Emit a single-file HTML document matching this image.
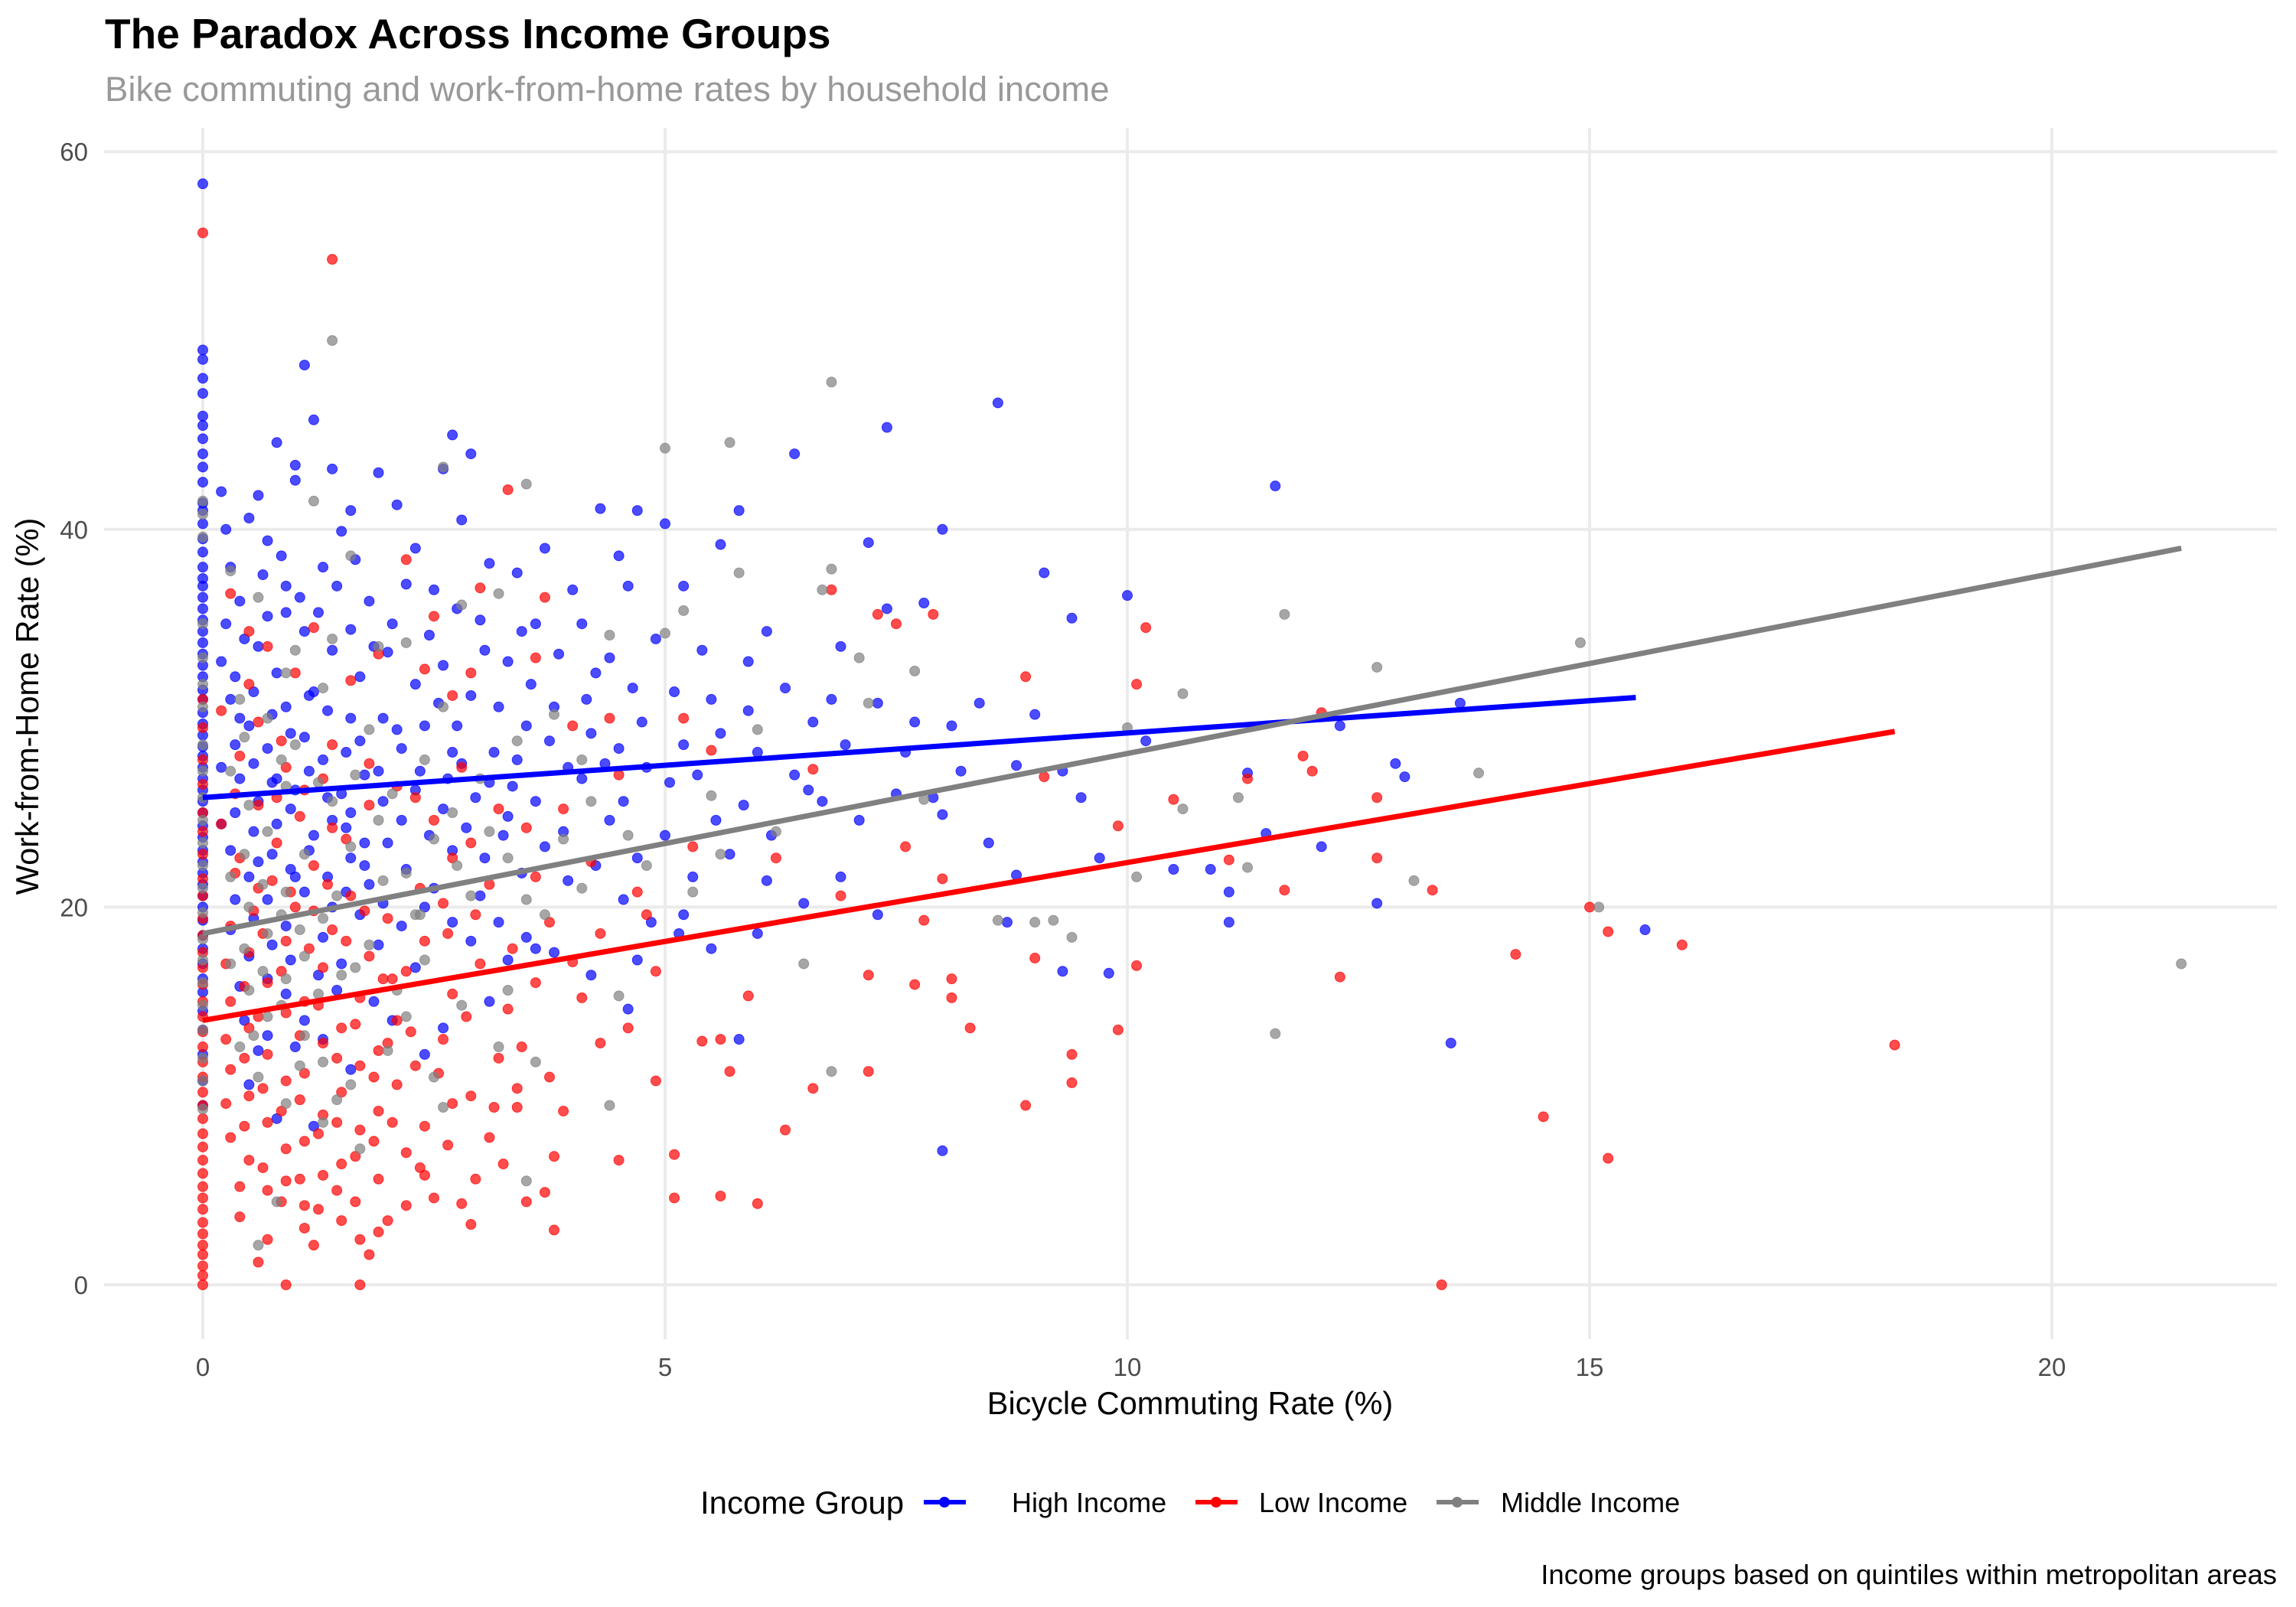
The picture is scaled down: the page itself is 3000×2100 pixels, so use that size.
<!DOCTYPE html>
<html><head><meta charset="utf-8">
<style>
html,body{margin:0;padding:0;background:#fff;}
svg{display:block;font-family:"Liberation Sans",Arial,sans-serif;}
</style></head>
<body>
<svg id="chart" width="3000" height="2100" viewBox="0 0 3000 2100" xmlns="http://www.w3.org/2000/svg">
<text x="137" y="63" font-size="55" font-weight="bold" fill="#000">The Paradox Across Income Groups</text>
<text x="137" y="132" font-size="45.5" fill="#999">Bike commuting and work-from-home rates by household income</text>
<g id="grid"></g>
<g id="pts"></g>
<g id="lines"></g>
<g id="axes"></g>
<text x="1555" y="1848" font-size="41.5" text-anchor="middle" fill="#000">Bicycle Commuting Rate (%)</text>
<text transform="translate(50,923) rotate(-90)" font-size="41.5" text-anchor="middle" fill="#000">Work-from-Home Rate (%)</text>
<g>
<text x="915" y="1978" font-size="42" fill="#000">Income Group</text>
<g><line x1="1207" y1="1963" x2="1262" y2="1963" stroke="#0000ff" stroke-width="6"/><circle cx="1234" cy="1963" r="7" fill="#0000ff"/><text x="1322" y="1976" font-size="36">High Income</text></g>
<g><line x1="1562" y1="1963" x2="1617" y2="1963" stroke="#ff0000" stroke-width="6"/><circle cx="1589" cy="1963" r="7" fill="#ff0000"/><text x="1645" y="1976" font-size="36">Low Income</text></g>
<g><line x1="1877" y1="1963" x2="1932" y2="1963" stroke="#808080" stroke-width="6"/><circle cx="1904" cy="1963" r="7" fill="#808080"/><text x="1961" y="1976" font-size="36">Middle Income</text></g>
</g>
<text x="2975" y="2070" font-size="36.5" text-anchor="end" fill="#000">Income groups based on quintiles within metropolitan areas</text>
</svg>
<script>
const xTicks=[0,5,10,15,20];
const yTicks=[0,20,40,60];
const highZero=[58.3,49.5,49,48,47.2,46,45.5,44.8,44,43.3,42.5,41.4,41,40.3,39.5,38.8,38,37.4,37,36.4,35.8,35.2,34.6,34,33.4,32.8,32.2,31.5,31,30.3,29.7,29.1,28.5,28,27.4,26.8,26.2,25.6,25,24.3,23.7,23,22.4,21.8,21.2,20.6,20,19.3,18.5,17.8,17,16.2,15.5,14.5,13.5,12.2,10.8,9.5];
const lowZero=[55.7,31,29.5,27.8,26.5,25,24,22.8,21.5,20.6,19.4,18.5,17.6,16.8,15.9,15,14.2,13.4,12.6,11.8,11,10.2,9.5,8.8,8,7.3,6.6,5.9,5.2,4.6,4,3.3,2.7,2.1,1.6,1,0.5,0];
const midZero=[41.5,40.8,39.6,35,33.2,31.8,30.6,28.6,27.2,25.8,24.6,23.4,22.2,21,19.7,18.3,17.2,16,14.8,13.5,12,10.8,9.3];
const highPts=[[1.1,48.7],[1.2,45.8],[2.7,45],[2.6,43.2],[2.9,44],[6.4,44],[7.4,45.4],[8.6,46.7],[11.6,42.3],[5.8,41],[4.3,41.1],[4.7,41],[5,40.3],[8,40],[10,36.5],[9.1,37.7],[13.6,30.8],[12.3,29.6],[12.9,27.6],[13,26.9],[11.3,27.1],[11.5,23.9],[11.1,20.8],[11.1,19.2],[12.1,23.2],[12.7,20.2],[13.5,12.8],[15.6,18.8],[10.5,22],[10.9,22],[9.5,25.8],[9.3,27.2],[9.3,16.6],[9.8,16.5],[9.7,22.6],[9.4,35.3],[8.8,27.5],[8.8,21.7],[8.7,19.2],[8.1,29.6],[8,24.9],[8,7.1],[7.8,36.1],[7.2,39.3],[7.4,35.8],[6.9,33.8],[6.1,34.6],[5.6,39.2],[5.2,37],[4.6,37],[4,36.8],[3.7,39],[3.4,37.7],[2.8,40.5],[2.1,41.3],[1.5,39.9],[1.6,34.7],[0.8,44.6],[1,42.6],[0.5,40.6],[0.6,41.8],[0.2,42],
[1,43.4],[1.4,43.2],[0.7,35.4],[0.9,37],[1.3,38],[1.8,36.2],[2.2,37.1],[2.5,36.8],[3,35.2],[3.3,33],[3.6,35],[4.1,35],[4.4,33.2],[4.9,34.2],[5.4,33.6],[5.9,33],[6.3,31.6],[6.8,31],[7.3,30.8],[7.7,29.8],[8.4,30.8],[9,30.2],[10.2,28.8],[0.3,38],[0.4,36.2],[0.6,33.8],[0.8,32.4],[1.1,34.6],[1.4,33.6],[1.7,32.2],[2,33.5],[2.3,31.8],[2.6,32.8],[2.9,31.2],[3.2,30.6],[3.5,29.6],[3.8,30.6],[4.2,29.2],[4.5,28.4],[4.8,27.4],[5.2,28.6],[5.6,29.2],[6,28.2],[6.4,27],[6.7,25.6],[7.1,24.6],[7.5,26],[7.9,25.8],[8.5,23.4],[0.2,33],[0.3,31],[0.5,29.6],[0.7,28.4],[0.9,30.6],[1.1,29],[1.3,27.8],[1.5,26],[1.7,28.8],[1.9,27.2],[2.1,29.4],[2.3,26.2],[2.6,25.2],[2.8,27.6],[3.1,26.6],[3.3,24.8],[3.6,25.6],[3.9,24],[4.1,26.8],[4.4,24.6],[4.7,22.6],[5,23.8],[5.3,21.6],[5.7,22.8],[6.1,21.4],[6.5,20.2],[6.9,21.6],[7.3,19.6],[5.8,13],[0.2,27.4],[0.4,26.8],[0.6,25.6],[0.8,24.4],[1,26.2],[1.2,23.8],[1.4,24.6],[1.6,22.6],[1.8,21.2],[2,23.4],[2.2,22],[2.5,21],[2.7,23],[3,20.6],[3.2,19.2],[3.5,18.4],[3.8,17.6],[4.2,16.4],[4.6,14.6],[3.6,17.8],[0.3,23],[0.5,21.6],[0.7,20.4],[0.9,19],[1.1,20.8],[1.3,18.4],[1.5,17],[1.7,19.6],[1.9,18],[2.3,16.8],[2.6,13.6],[0.3,18.8],[0.5,17.4],[0.7,16.2],[0.9,15.4],[1.1,14],[1.3,13],[1.2,8.4],[0.8,8.8],[2.4,12.2],[0.4,15.8],[0.6,12.4],[3.1,15],[4.7,17.2],[5.2,19.6],[6,18.6],[0.9,35.6],[1.2,31.4],[1.6,30],[2.4,29.6],[2.7,28.2],[3.4,27.8],[0.4,30],[0.2,24.4],[0.6,22.4],[1,21.6],[1.4,20],[0.8,26.8],[1.6,25],
[0.35,32.2],[0.55,31.4],[0.75,30.2],[0.95,29.2],[1.15,31.2],[1.35,30.4],[1.55,28.2],[1.75,27],[1.95,30],[2.15,28.4],[2.35,27.2],[2.55,30.8],[2.75,29.6],[2.95,25.8],[3.15,28.2],[3.35,26.4],[3.55,31.8],[3.75,28.8],[3.95,27.4],[4.15,31],[4.35,27.6],[4.55,25.6],[4.75,29.8],[5.05,26.6],[5.35,27],[5.55,24.6],[5.85,25.4],[6.15,23.8],[6.55,26.2],[6.95,28.6],[7.6,28.2],[8.2,27.2],[0.35,28.6],[0.55,27.6],[0.75,26.6],[0.95,25.2],[1.15,27.2],[1.35,25.8],[1.55,24.2],[1.75,23.4],[1.95,25.6],[2.15,24.6],[2.45,23.8],[2.65,26.8],[2.85,24.2],[3.05,22.6],[3.25,23.8],[3.45,21.8],[3.7,23.2],[3.95,21.4],[4.25,22.2],[4.55,20.4],[4.85,19.2],[5.15,18.6],[5.5,17.8],[0.35,25],[0.55,24],[0.75,22.8],[0.95,22],[1.15,23],[1.35,21.6],[1.55,20.8],[1.75,22.2],[1.95,20.2],[2.15,19],[2.4,20],[2.7,19.2],[2.9,18.2],[3.3,17.2],[0.35,20.4],[0.55,19.4],[0.75,18],[0.95,17.2],[1.25,16.4],[1.45,15.6],[1.85,15],[2.05,14],[0.45,14],[0.7,13.2],[1,12.6],[0.5,10.6],[1.6,11.4],[0.25,35],[0.45,34.2],[0.65,37.6],[0.85,38.6],[1.05,36.4],[1.25,35.6],[1.45,37],[1.65,38.4],[1.85,33.8],[2.05,35],[2.45,34.4],[2.75,35.8],[3.05,33.6],[3.45,34.6],[3.85,33.4],[4.25,32.4],[4.65,31.6],[5.1,31.4],[5.5,31],[5.9,30.4],[6.6,29.8],[0.25,40],[0.7,39.4],[1.6,41],[2.3,39],[3.1,38.2],[4.5,38.6],[1.9,43]];
const lowPts=[[1.4,54.3],[0.9,0],[1.7,0],[13.4,0],[15.2,6.7],[14.5,8.9],[18.3,12.7],[14.2,17.5],[15.2,18.7],[15,20],[16,18],[12.3,16.3],[13.3,20.9],[12.7,22.6],[11.7,20.9],[11.1,22.5],[12.1,30.3],[12.7,25.8],[11.9,28],[12,27.2],[11.3,26.8],[10.1,31.8],[10.2,34.8],[10.1,16.9],[9.9,13.5],[10.5,25.7],[9.9,24.3],[9.4,12.2],[9.4,10.7],[9,17.3],[8.9,9.5],[8.9,32.2],[9.1,26.9],[8.3,13.6],[8.1,16.2],[8.1,15.2],[8,21.5],[7.9,35.5],[7.5,35],[7.6,23.2],[7.8,19.3],[7.7,15.9],[7.2,11.3],[7.2,16.4],[7.3,35.5],[6.8,36.8],[6.6,10.4],[6.6,27.3],[6,4.3],[5.6,4.7],[5.1,4.6],[5.1,6.9],[5.6,13],[5.4,12.9],[5.7,11.3],[5.9,15.3],[5.5,28.3],[4.8,19.6],[4.3,12.8],[4,17.1],[3.9,9.2],[3.8,6.8],[3.7,4.9],[3.8,2.9],[3.4,10.4],[3.3,42.1],[2.9,32.4],[3,36.9],[2.8,4.3],[2.4,5.8],[2,3.4],[1.9,2.8],[1.7,2.4],[1.2,2.1],[0.9,5.5],
[0.3,36.6],[0.5,34.6],[0.7,33.8],[1.2,34.8],[1.6,32],[2.2,38.4],[2.4,32.6],[2.7,31.2],[3.6,33.2],[4,29.6],[4.5,27],[5.2,30],[0.2,30.4],[0.4,28],[0.6,29.8],[0.9,27.4],[1.1,26.2],[1.4,28.6],[1.8,25.4],[2.1,26.4],[2.5,24.6],[2.9,23.4],[3.2,25.2],[3.6,21.6],[4.2,22.4],[4.7,20.8],[5.3,23.2],[6.2,22.6],[6.9,20.6],[0.2,24.4],[0.4,22.6],[0.6,21],[0.8,23.4],[1,20],[1.2,22.2],[1.4,18.8],[1.6,20.6],[1.8,17.4],[2,19.4],[2.2,16.6],[2.4,18.2],[2.7,15.4],[3,17],[3.3,14.6],[3.6,16],[4.1,15.2],[4.6,13.6],[0.3,19],[0.5,17.6],[0.7,16],[0.9,18.2],[1.1,15],[1.3,16.8],[1.5,13.6],[1.7,15.2],[1.9,12.4],[2.1,14],[2.3,11.6],[2.6,13],[2.9,10],[3.2,12],[0.3,15],[0.5,13.6],[0.7,12.2],[0.9,14.4],[1.1,11.2],[1.3,12.8],[1.5,10.2],[1.7,11.6],[1.9,9.2],[2.1,10.6],[2.4,8.4],[2.7,9.6],[3.1,7.8],[0.3,11.4],[0.5,10],[0.7,8.6],[0.9,10.8],[1.1,7.6],[1.3,9],[1.5,6.4],[1.7,8.2],[1.9,5.6],[2.2,7],[0.3,7.8],[0.5,6.6],[0.7,5],[0.9,7.2],[1.1,4.2],[1.3,5.8],[1.5,3.4],[0.4,3.6],[0.7,2.4],[1.1,3],[2.5,4.6],[3.5,4.4],[0.6,14.2],[1.2,19.8],[2.6,20.2],[3.9,25.2],[4.4,30],[2,12.8],[1.4,24.2],[0.8,25.8],[3.4,9.4],[2.8,27.4],
[0.25,17],[0.45,15.8],[0.65,18.6],[0.85,16.6],[1.05,13.2],[1.25,14.8],[1.45,12],[1.65,13.8],[1.85,11],[2.05,16.2],[2.25,13.4],[2.55,11.2],[2.85,14.2],[3.15,9.4],[3.45,12.6],[3.75,11],[0.25,13],[0.45,12],[0.65,10.4],[0.85,9.2],[1.05,9.8],[1.25,8],[1.45,8.6],[1.65,6.8],[1.85,7.6],[2.05,8.6],[2.35,6.2],[2.65,7.4],[2.95,5.6],[3.25,6.4],[0.25,9.6],[0.45,8.4],[0.65,6.2],[0.85,4.4],[1.05,5.6],[1.25,4],[1.45,5],[1.65,4.4],[2.2,4.2],[2.9,3.2],[0.35,21.8],[0.55,19.8],[0.75,21.4],[0.95,20.8],[1.15,17.8],[1.35,21.2],[1.55,18.2],[1.75,19.8],[1.95,16.2],[2.35,21],[2.65,18.6],[2.95,19.6],[3.35,17.8],[3.75,19.2],[4.3,18.6],[4.9,16.6],[0.35,26],[0.6,25.4],[0.85,28.8],[1.05,24.8],[1.3,26.8],[1.55,23.6],[1.8,27.6],[2.3,25.8],[2.7,22.6],[3.1,21.2],[3.5,24.2],[0.5,31.8],[1,32.4],[1.9,33.4],[2.5,35.4],[3.7,36.4],[0.4,5.2],[0.6,1.2],[1.8,1.6],[6.3,8.2],[4.9,10.8],[4.5,6.6]];
const midPts=[[21.4,17],[14.9,34],[15.1,20],[13.8,27.1],[13.1,21.4],[12.7,32.7],[11.7,35.5],[11.6,13.3],[11.3,22.1],[11.2,25.8],[10.6,31.3],[10.6,25.2],[10.1,21.6],[10,29.5],[9.4,18.4],[9.2,19.3],[9,19.2],[8.6,19.3],[7.8,25.7],[7.7,32.5],[7.1,33.2],[7.2,30.8],[6.8,47.8],[6.8,37.9],[6.7,36.8],[6.8,11.3],[6.5,17],[6,29.4],[5.7,44.6],[5.8,37.7],[5.5,25.9],[5,44.3],[5,34.5],[5.2,35.7],[4.5,15.3],[4.4,9.5],[3.5,5.5],[3.5,42.4],[1.4,50],[2.6,43.3],[0.6,2.1],[1.2,41.5],
[0.3,37.8],[0.6,36.4],[1,33.6],[1.4,34.2],[1.6,38.6],[2.2,34],[2.8,36],[3.2,36.6],[3.8,30.2],[4.4,34.4],[0.4,31],[0.7,30],[1,28.6],[1.3,31.6],[1.8,29.4],[2.4,27.8],[3,26.8],[3.4,28.8],[4.2,25.6],[0.3,27.2],[0.5,25.4],[0.7,24],[0.9,26.4],[1.1,22.8],[1.4,25.6],[1.6,23.2],[1.9,24.6],[2.2,21.8],[2.5,23.6],[2.9,20.6],[3.3,22.6],[3.7,19.6],[4.1,21],[4.6,23.8],[5.3,20.8],[0.3,21.6],[0.5,20],[0.7,18.6],[0.9,20.8],[1.1,17.4],[1.3,19.4],[1.5,16.4],[1.8,18],[2.1,15.6],[2.4,17.2],[2.8,14.8],[3.2,12.6],[0.3,17],[0.5,15.6],[0.7,14.2],[0.9,16.2],[1.1,13.2],[1.3,11.8],[1.6,10.6],[2,12.4],[2.5,11],[0.4,12.6],[0.6,11],[0.9,9.6],[1.3,8.6],[1.7,7.2],[0.8,4.4],[3.6,11.8],[2.3,19.6],[4.8,22.2],[6.2,24],[0.9,32.4],[1.9,33.8],[2.6,30.6],
[0.45,29],[0.85,27.8],[1.25,26.6],[1.65,27],[2.05,26],[2.7,25],[3.1,24],[3.9,23.6],[0.45,22.8],[0.65,21.2],[0.85,19.6],[1.05,18.8],[1.45,20.6],[1.95,21.4],[2.35,19.6],[2.75,22.2],[3.5,20.4],[0.45,17.8],[0.65,16.6],[0.85,14.8],[1.25,15.4],[1.65,16.8],[2.2,14.2],[0.55,13.2],[1.05,11.6],[1.45,9.8],[2.6,9.4],[3.3,15.6],[4.1,27.8],[5.6,22.8]];
const lineX=[[0,15.5],[0,18.3],[0,21.4]];
const lineY=[[25.8,31.1],[14,29.3],[18.6,39]];
const lineCol=['#0000ff','#ff0000','#808080'];
const lineNames=['trend-line-high','trend-line-low','trend-line-middle'];

const NS='http://www.w3.org/2000/svg';
const sx=v=>265+v*120.8;
const sy=v=>1679-v*24.68;
function mk(tag,attrs,parent){const e=document.createElementNS(NS,tag);for(const k in attrs)e.setAttribute(k,attrs[k]);parent.appendChild(e);return e;}
const grid=document.getElementById('grid'),axes=document.getElementById('axes'),pts=document.getElementById('pts'),lines=document.getElementById('lines');
xTicks.forEach(v=>{const l=mk('line',{x1:sx(v),x2:sx(v),y1:167,y2:1750,stroke:'#ebebeb','stroke-width':4},grid);
const t=mk('text',{x:sx(v),y:1798,'font-size':33,'text-anchor':'middle',fill:'#4d4d4d'},axes);t.textContent=v;});
yTicks.forEach(v=>{const l=mk('line',{x1:136,x2:2975,y1:sy(v),y2:sy(v),stroke:'#ebebeb','stroke-width':4},grid);
const t=mk('text',{x:115,y:sy(v)+12,'font-size':33,'text-anchor':'end',fill:'#4d4d4d'},axes);t.textContent=v;});
function dots(arr,col,name){arr.forEach(p=>{const c=mk('circle',{cx:sx(p[0]),cy:sy(p[1]),r:6.5,fill:col,'fill-opacity':0.7,stroke:col,'stroke-opacity':0.7,'stroke-width':1},pts);});}
dots(highZero.map(y=>[0,y]),'#0000ff','point-high');
dots(highPts,'#0000ff','point-high');
dots(lowZero.map(y=>[0,y]),'#ff0000','point-low');
dots(lowPts,'#ff0000','point-low');
dots(midZero.map(y=>[0,y]),'#808080','point-middle');
dots(midPts,'#808080','point-middle');
lineX.forEach((lx,i)=>{const l=mk('line',{x1:sx(lx[0]),x2:sx(lx[1]),y1:sy(lineY[i][0]),y2:sy(lineY[i][1]),stroke:lineCol[i],'stroke-width':7},lines);});
</script>
</body></html>
